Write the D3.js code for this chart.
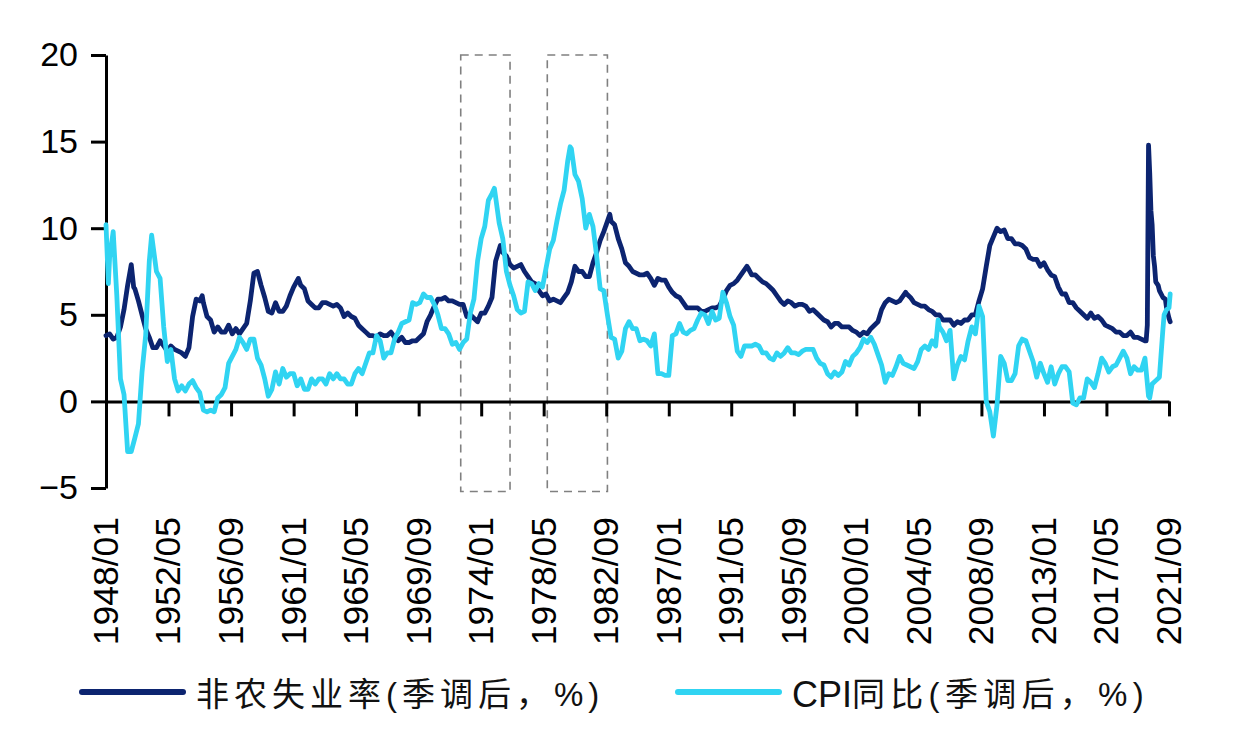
<!DOCTYPE html>
<html>
<head>
<meta charset="utf-8">
<script src="https://cdn.jsdelivr.net/npm/d3@7"></script>
<style>
  html, body { margin: 0; padding: 0; background: #ffffff; }
  svg { display: block; }
</style>
</head>
<body>
<svg id="chart" width="1236" height="742"></svg>
<script>
// ---------------- DATA ----------------
const xTickLabels = ["1948/01","1952/05","1956/09","1961/01","1965/05","1969/09","1974/01","1978/05","1982/09",
  "1987/01","1991/05","1995/09","2000/01","2004/05","2008/09","2013/01","2017/05","2021/09"];
const yTicks = [-5, 0, 5, 10, 15, 20];
const seriesNames = ["非农失业率(季调后，%)", "CPI同比(季调后，%)"];

// highlighted periods (dashed boxes)
const highlightStarts = ["1972/08", "1978/08"];
const highlightEnds = ["1976/01", "1982/10"];
const highlightTop = 20;
const highlightBottom = -5.2;

// US unemployment rate, %
const unemployment = [
["1948-01",3.8],["1948-04",3.9],["1948-07",3.6],["1948-10",3.7],
["1949-01",4.3],["1949-04",5.3],["1949-07",6.7],["1949-10",7.9],["1949-12",6.6],
["1950-01",6.5],["1950-04",5.8],["1950-07",5.0],["1950-10",4.2],
["1951-01",3.7],["1951-04",3.1],["1951-07",3.1],["1951-10",3.5],
["1952-01",3.2],["1952-04",2.9],["1952-07",3.2],["1952-10",3.0],
["1953-01",2.9],["1953-04",2.8],["1953-07",2.6],["1953-10",3.1],
["1954-01",4.9],["1954-04",5.9],["1954-07",5.8],["1954-09",6.1],["1954-10",5.7],
["1955-01",4.9],["1955-04",4.7],["1955-07",4.0],["1955-10",4.3],
["1956-01",4.0],["1956-04",4.0],["1956-07",4.4],["1956-10",3.9],
["1957-01",4.2],["1957-04",3.9],["1957-07",4.2],["1957-10",4.5],
["1958-01",5.8],["1958-04",7.4],["1958-07",7.5],["1958-10",6.7],
["1959-01",6.0],["1959-04",5.2],["1959-07",5.1],["1959-10",5.7],
["1960-01",5.2],["1960-04",5.2],["1960-07",5.5],["1960-10",6.1],
["1961-01",6.6],["1961-05",7.1],["1961-07",6.7],["1961-10",6.5],
["1962-01",5.8],["1962-04",5.6],["1962-07",5.4],["1962-10",5.4],
["1963-01",5.7],["1963-04",5.7],["1963-07",5.6],["1963-10",5.5],
["1964-01",5.6],["1964-04",5.4],["1964-07",4.9],["1964-10",5.1],
["1965-01",4.9],["1965-04",4.8],["1965-07",4.4],["1965-10",4.2],
["1966-01",4.0],["1966-04",3.8],["1966-07",3.8],["1966-10",3.7],
["1967-01",3.9],["1967-04",3.8],["1967-07",3.8],["1967-10",4.0],
["1968-01",3.7],["1968-04",3.5],["1968-07",3.7],["1968-10",3.4],
["1969-01",3.4],["1969-04",3.5],["1969-07",3.5],["1969-10",3.7],
["1970-01",3.9],["1970-04",4.6],["1970-07",5.0],["1970-10",5.5],
["1971-01",5.9],["1971-04",5.9],["1971-07",6.0],["1971-10",5.8],
["1972-01",5.8],["1972-04",5.7],["1972-07",5.6],["1972-10",5.6],
["1973-01",4.9],["1973-04",5.0],["1973-07",4.8],["1973-10",4.6],
["1974-01",5.1],["1974-04",5.1],["1974-07",5.5],["1974-10",6.0],
["1975-01",8.1],["1975-05",9.0],["1975-07",8.6],["1975-10",8.4],
["1976-01",7.9],["1976-04",7.7],["1976-07",7.8],["1976-10",7.9],
["1977-01",7.5],["1977-04",7.2],["1977-07",6.9],["1977-10",6.8],
["1978-01",6.4],["1978-04",6.1],["1978-07",6.2],["1978-10",5.8],
["1979-01",5.9],["1979-04",5.8],["1979-07",5.7],["1979-10",6.0],
["1980-01",6.3],["1980-04",6.9],["1980-07",7.8],["1980-10",7.5],
["1981-01",7.5],["1981-04",7.2],["1981-07",7.2],["1981-10",8.0],
["1982-01",8.6],["1982-04",9.3],["1982-07",9.8],["1982-10",10.4],["1982-12",10.8],
["1983-01",10.4],["1983-04",10.2],["1983-07",9.4],["1983-10",8.8],
["1984-01",8.0],["1984-04",7.8],["1984-07",7.5],["1984-10",7.4],
["1985-01",7.3],["1985-04",7.3],["1985-07",7.4],["1985-10",7.1],
["1986-01",6.7],["1986-04",7.1],["1986-07",7.0],["1986-10",7.0],
["1987-01",6.6],["1987-04",6.3],["1987-07",6.1],["1987-10",6.0],
["1988-01",5.7],["1988-04",5.4],["1988-07",5.4],["1988-10",5.4],
["1989-01",5.4],["1989-04",5.2],["1989-07",5.2],["1989-10",5.3],
["1990-01",5.4],["1990-04",5.4],["1990-07",5.5],["1990-10",5.9],
["1991-01",6.4],["1991-04",6.7],["1991-07",6.8],["1991-10",7.0],
["1992-01",7.3],["1992-06",7.8],["1992-07",7.7],["1992-10",7.3],
["1993-01",7.3],["1993-04",7.1],["1993-07",6.9],["1993-10",6.8],
["1994-01",6.6],["1994-04",6.4],["1994-07",6.1],["1994-10",5.8],
["1995-01",5.6],["1995-04",5.8],["1995-07",5.7],["1995-10",5.5],
["1996-01",5.6],["1996-04",5.6],["1996-07",5.5],["1996-10",5.2],
["1997-01",5.3],["1997-04",5.1],["1997-07",4.9],["1997-10",4.7],
["1998-01",4.6],["1998-04",4.3],["1998-07",4.5],["1998-10",4.5],
["1999-01",4.3],["1999-04",4.3],["1999-07",4.3],["1999-10",4.1],
["2000-01",4.0],["2000-04",3.8],["2000-07",4.0],["2000-10",3.9],
["2001-01",4.2],["2001-04",4.4],["2001-07",4.6],["2001-10",5.3],
["2002-01",5.7],["2002-04",5.9],["2002-07",5.8],["2002-10",5.7],
["2003-01",5.8],["2003-06",6.3],["2003-07",6.2],["2003-10",6.0],
["2004-01",5.7],["2004-04",5.6],["2004-07",5.5],["2004-10",5.5],
["2005-01",5.3],["2005-04",5.2],["2005-07",5.0],["2005-10",5.0],
["2006-01",4.7],["2006-04",4.7],["2006-07",4.7],["2006-10",4.4],
["2007-01",4.6],["2007-04",4.5],["2007-07",4.7],["2007-10",4.7],
["2008-01",5.0],["2008-04",5.0],["2008-07",5.8],["2008-10",6.5],
["2009-01",7.8],["2009-04",9.0],["2009-07",9.5],["2009-10",10.0],
["2010-01",9.8],["2010-04",9.9],["2010-07",9.4],["2010-10",9.4],
["2011-01",9.1],["2011-04",9.1],["2011-07",9.0],["2011-10",8.8],
["2012-01",8.3],["2012-04",8.2],["2012-07",8.2],["2012-10",7.8],
["2013-01",8.0],["2013-04",7.6],["2013-07",7.3],["2013-10",7.2],
["2014-01",6.6],["2014-04",6.2],["2014-07",6.2],["2014-10",5.7],
["2015-01",5.7],["2015-04",5.4],["2015-07",5.2],["2015-10",5.0],
["2016-01",4.8],["2016-04",5.1],["2016-07",4.8],["2016-10",4.9],
["2017-01",4.7],["2017-04",4.4],["2017-07",4.3],["2017-10",4.2],
["2018-01",4.0],["2018-04",4.0],["2018-07",3.8],["2018-10",3.8],
["2019-01",4.0],["2019-04",3.7],["2019-07",3.7],["2019-10",3.6],
["2020-01",3.5],["2020-02",3.5],["2020-03",4.4],["2020-04",14.8],["2020-05",13.2],["2020-06",11.0],
["2020-07",10.2],["2020-08",8.4],["2020-09",7.8],["2020-10",6.9],["2020-12",6.7],
["2021-01",6.4],["2021-04",6.0],["2021-06",5.9],["2021-07",5.4],["2021-09",4.8],["2021-10",4.6]
];

// US CPI year-over-year, %
const cpiYoY = [
["1948-01",10.2],["1948-03",6.8],["1948-04",8.3],["1948-07",9.8],["1948-10",6.1],
["1949-01",1.3],["1949-04",0.4],["1949-07",-2.9],["1949-10",-2.9],
["1950-01",-2.1],["1950-04",-1.3],["1950-07",1.7],["1950-10",3.8],
["1951-01",8.1],["1951-03",9.6],["1951-07",7.5],["1951-10",7.1],
["1952-01",4.3],["1952-04",2.3],["1952-07",3.0],["1952-10",1.3],
["1953-01",0.6],["1953-04",0.9],["1953-07",0.6],["1953-10",1.0],
["1954-01",1.2],["1954-04",0.8],["1954-07",0.5],["1954-10",-0.5],
["1955-01",-0.6],["1955-04",-0.5],["1955-07",-0.6],["1955-10",0.2],
["1956-01",0.4],["1956-04",0.8],["1956-07",2.2],["1956-10",2.6],
["1957-01",3.0],["1957-04",3.7],["1957-07",3.4],["1957-10",3.0],
["1958-01",3.6],["1958-04",3.6],["1958-07",2.5],["1958-10",2.1],
["1959-01",1.3],["1959-04",0.3],["1959-07",0.7],["1959-10",1.7],
["1960-01",1.0],["1960-04",1.9],["1960-07",1.4],["1960-10",1.6],
["1961-01",1.6],["1961-04",0.9],["1961-07",1.3],["1961-10",0.7],
["1962-01",0.7],["1962-04",1.3],["1962-07",1.0],["1962-10",1.3],
["1963-01",1.3],["1963-04",1.0],["1963-07",1.6],["1963-10",1.3],
["1964-01",1.6],["1964-04",1.3],["1964-07",1.3],["1964-10",1.0],
["1965-01",1.0],["1965-04",1.6],["1965-07",1.9],["1965-10",1.6],
["1966-01",2.2],["1966-04",2.8],["1966-07",2.8],["1966-10",3.8],
["1967-01",3.5],["1967-04",2.5],["1967-07",2.8],["1967-10",2.8],
["1968-01",3.6],["1968-04",4.0],["1968-07",4.5],["1968-10",4.6],
["1969-01",4.7],["1969-04",5.7],["1969-07",5.6],["1969-10",5.7],
["1970-01",6.2],["1970-04",6.0],["1970-07",6.0],["1970-10",5.6],
["1971-01",5.0],["1971-04",4.2],["1971-07",4.2],["1971-10",3.9],
["1972-01",3.3],["1972-04",3.4],["1972-07",3.0],["1972-10",3.4],
["1973-01",3.6],["1973-04",5.1],["1973-07",5.9],["1973-10",8.1],
["1974-01",9.4],["1974-04",10.1],["1974-07",11.6],["1974-10",12.0],["1974-12",12.3],
["1975-01",11.8],["1975-04",10.3],["1975-07",9.4],["1975-10",7.5],
["1976-01",6.7],["1976-04",6.1],["1976-07",5.3],["1976-10",5.1],
["1977-01",5.2],["1977-04",6.9],["1977-07",6.8],["1977-10",6.4],
["1978-01",6.8],["1978-04",6.6],["1978-07",7.7],["1978-10",8.8],
["1979-01",9.3],["1979-04",10.4],["1979-07",11.4],["1979-10",12.2],
["1980-01",13.9],["1980-03",14.7],["1980-04",14.6],["1980-07",13.1],["1980-10",12.7],
["1981-01",11.7],["1981-04",10.0],["1981-07",10.8],["1981-10",10.1],
["1982-01",8.4],["1982-04",6.5],["1982-07",6.4],["1982-10",5.0],
["1983-01",3.7],["1983-04",3.6],["1983-07",2.5],["1983-10",2.9],
["1984-01",4.2],["1984-04",4.6],["1984-07",4.2],["1984-10",4.2],
["1985-01",3.5],["1985-04",3.6],["1985-07",3.5],["1985-10",3.2],
["1986-01",3.9],["1986-04",1.6],["1986-07",1.6],["1986-10",1.5],
["1987-01",1.5],["1987-04",3.8],["1987-07",3.9],["1987-10",4.5],
["1988-01",4.0],["1988-04",3.9],["1988-07",4.1],["1988-10",4.2],
["1989-01",4.7],["1989-04",5.1],["1989-07",5.0],["1989-10",4.5],
["1990-01",5.2],["1990-04",4.7],["1990-07",4.8],["1990-10",6.3],
["1991-01",5.7],["1991-04",4.9],["1991-07",4.4],["1991-10",2.9],
["1992-01",2.6],["1992-04",3.2],["1992-07",3.2],["1992-10",3.2],
["1993-01",3.3],["1993-04",3.2],["1993-07",2.8],["1993-10",2.8],
["1994-01",2.5],["1994-04",2.4],["1994-07",2.8],["1994-10",2.6],
["1995-01",2.8],["1995-04",3.1],["1995-07",2.8],["1995-10",2.8],
["1996-01",2.7],["1996-04",2.9],["1996-07",3.0],["1996-10",3.0],
["1997-01",3.0],["1997-04",2.5],["1997-07",2.2],["1997-10",2.1],
["1998-01",1.6],["1998-04",1.4],["1998-07",1.7],["1998-10",1.5],
["1999-01",1.7],["1999-04",2.3],["1999-07",2.1],["1999-10",2.6],
["2000-01",2.8],["2000-04",3.1],["2000-07",3.6],["2000-10",3.4],
["2001-01",3.7],["2001-04",3.3],["2001-07",2.7],["2001-10",2.1],
["2002-01",1.1],["2002-04",1.6],["2002-07",1.5],["2002-10",2.0],
["2003-01",2.6],["2003-04",2.2],["2003-07",2.1],["2003-10",2.0],
["2004-01",1.9],["2004-04",2.3],["2004-07",3.0],["2004-10",3.2],
["2005-01",3.0],["2005-04",3.5],["2005-07",3.2],["2005-09",4.7],["2005-10",4.3],
["2006-01",4.0],["2006-04",3.5],["2006-07",4.1],["2006-10",1.3],
["2007-01",2.1],["2007-04",2.6],["2007-07",2.4],["2007-10",3.5],
["2008-01",4.3],["2008-04",3.9],["2008-07",5.5],["2008-10",4.9],
["2009-01",0.0],["2009-04",-0.6],["2009-07",-2.0],["2009-10",-0.2],
["2010-01",2.6],["2010-04",2.2],["2010-07",1.2],["2010-10",1.2],
["2011-01",1.6],["2011-04",3.2],["2011-07",3.6],["2011-10",3.5],
["2012-01",2.9],["2012-04",2.3],["2012-07",1.4],["2012-10",2.2],
["2013-01",1.6],["2013-04",1.1],["2013-07",2.0],["2013-10",1.0],
["2014-01",1.6],["2014-04",2.0],["2014-07",2.0],["2014-10",1.7],
["2015-01",-0.1],["2015-04",-0.2],["2015-07",0.2],["2015-10",0.2],
["2016-01",1.3],["2016-04",1.1],["2016-07",0.8],["2016-10",1.6],
["2017-01",2.5],["2017-04",2.2],["2017-07",1.7],["2017-10",2.0],
["2018-01",2.1],["2018-04",2.5],["2018-07",2.9],["2018-10",2.5],
["2019-01",1.6],["2019-04",2.0],["2019-07",1.8],["2019-10",1.8],
["2020-01",2.5],["2020-04",0.3],["2020-05",0.2],["2020-07",1.0],["2020-10",1.2],
["2021-01",1.4],["2021-04",4.2],["2021-05",5.0],["2021-07",5.3],["2021-09",5.4],["2021-10",6.2]
];

// ---------------- CHART ----------------
const colors = ["#0c2470", "#30d4f2"];
const svg = d3.select("#chart");
const parseMonth = d3.timeParse("%Y-%m");
const parseTick = d3.timeParse("%Y/%m");

const x = d3.scaleTime()
  .domain([parseTick(xTickLabels[0]), parseTick(xTickLabels[xTickLabels.length - 1])])
  .range([106, 1169]);
const y = d3.scaleLinear().domain([-5, 20]).range([488, 55]);

const numFont = "'Liberation Sans', Arial, sans-serif";

// dashed highlight boxes
highlightStarts.forEach((s, i) => {
  const x0 = x(parseTick(s)), x1 = x(parseTick(highlightEnds[i]));
  svg.append("rect")
    .attr("x", x0).attr("y", y(highlightTop))
    .attr("width", x1 - x0).attr("height", y(highlightBottom) - y(highlightTop))
    .attr("fill", "none").attr("stroke", "#808080").attr("stroke-width", 1.6)
    .attr("stroke-dasharray", "8,6");
});

// y axis
const yAxis = svg.append("g").attr("transform", "translate(106,0)")
  .call(d3.axisLeft(y).tickValues(yTicks).tickSizeInner(15).tickSizeOuter(0).tickPadding(13).tickFormat(d3.format("d")));
yAxis.select(".domain").attr("stroke", "#000").attr("stroke-width", 3);
yAxis.selectAll(".tick line").attr("stroke", "#000").attr("stroke-width", 3);
yAxis.selectAll(".tick text").attr("font-family", numFont).attr("font-size", 34).attr("fill", "#000");

// x axis at y=0
const xTickDates = xTickLabels.map(parseTick);
const xAxis = svg.append("g").attr("transform", `translate(0,${y(0)})`)
  .call(d3.axisBottom(x).tickValues(xTickDates).tickSizeInner(15).tickSizeOuter(0).tickFormat(""));
xAxis.select(".domain").attr("stroke", "#000").attr("stroke-width", 3);
xAxis.selectAll(".tick line").attr("stroke", "#000").attr("stroke-width", 3);

// x labels (rotated, below plot)
svg.append("g").selectAll("text").data(xTickLabels).join("text")
  .attr("transform", d => `translate(${x(parseTick(d))},517) rotate(-90)`)
  .attr("text-anchor", "end")
  .attr("dominant-baseline", "central")
  .attr("font-family", numFont).attr("font-size", 35.5).attr("fill", "#000")
  .text(d => d);

// lines
const line = d3.line().x(d => x(parseMonth(d[0]))).y(d => y(d[1]));
[unemployment, cpiYoY].forEach((data, i) => {
  svg.append("path").datum(data)
    .attr("d", line)
    .attr("fill", "none")
    .attr("stroke", colors[i])
    .attr("stroke-width", 4.8)
    .attr("stroke-linejoin", "round")
    .attr("stroke-linecap", "round");
});

// legend
const legendX = [82, 678];
seriesNames.forEach((name, i) => {
  svg.append("line")
    .attr("x1", legendX[i]).attr("x2", legendX[i] + 101)
    .attr("y1", 692).attr("y2", 692)
    .attr("stroke", colors[i]).attr("stroke-width", 6).attr("stroke-linecap", "round");
  const latin = name.match(/^[A-Za-z]*/)[0];
  const rest = name.slice(latin.length);
  const t = svg.append("text")
    .attr("x", legendX[i] + 114).attr("y", 694)
    .attr("dominant-baseline", "central")
    .attr("font-family", "'Liberation Sans', 'Noto Sans CJK SC', sans-serif")
    .attr("font-size", 33).attr("fill", "#111");
  if (latin) t.append("tspan").attr("font-size", 36).text(latin);
  t.append("tspan").attr("letter-spacing", i === 0 ? 5 : 5.3).text(rest);
});
</script>
</body>
</html>
